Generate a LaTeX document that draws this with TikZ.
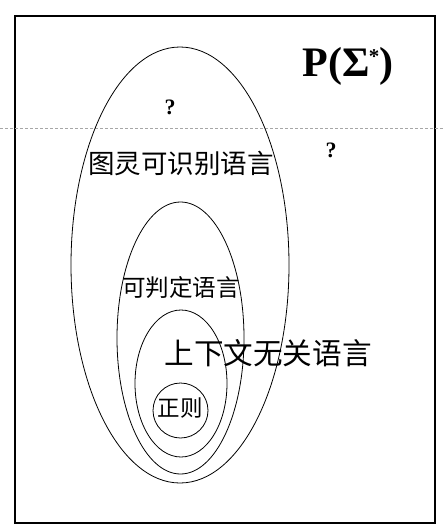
\documentclass[tikz,border=0pt]{standalone}
\usepackage{fontspec}
\setmainfont{Liberation Serif}
\newfontfamily\cjk{Noto Sans CJK SC}
\begin{document}
\begin{tikzpicture}[x=1pt,y=-1pt,
  set/.style={draw=black,line width=0.8pt},
  cjklabel/.style={inner sep=0pt,font=\cjk},
  qmark/.style={inner sep=0pt,font=\bfseries\fontsize{22}{24}\selectfont}]
\useasboundingbox (0,0) rectangle (444,528);
\draw[line width=1.2pt] (15,16) rectangle (435,523);
\draw[gray!70,line width=0.6pt,dash pattern=on 3pt off 2pt] (0,128) -- (444,128);
\draw[set] (180,265) ellipse [x radius=109pt, y radius=218pt];
\draw[set] (180.5,338) ellipse [x radius=63.5pt, y radius=136pt];
\draw[set] (181,383.5) ellipse [x radius=46pt, y radius=73.5pt];
\draw[set] (180.5,410.5) circle [radius=27.5pt];
\node[inner sep=0pt,font=\bfseries\fontsize{42}{46}\selectfont] (ps) at (348,66) {P(Σ\kern-1pt\raisebox{0.3em}{\fontsize{21}{23}\selectfont *})};
\node[qmark] (q1) at (170,107) {?};
\node[qmark] (q2) at (331,150) {?};
\node[cjklabel,font=\cjk\fontsize{26.5}{30}\selectfont] (tr) at (181,163) {图灵可识别语言};
\node[cjklabel,font=\cjk\fontsize{23.6}{26}\selectfont] (dec) at (181,288) {可判定语言};
\node[cjklabel,font=\cjk\fontsize{29.6}{32}\selectfont] (cfl) at (268,353) {上下文无关语言};
\node[cjklabel,font=\cjk\fontsize{22.5}{24}\selectfont] (reg) at (180,408) {正则};
\end{tikzpicture}
\end{document}
